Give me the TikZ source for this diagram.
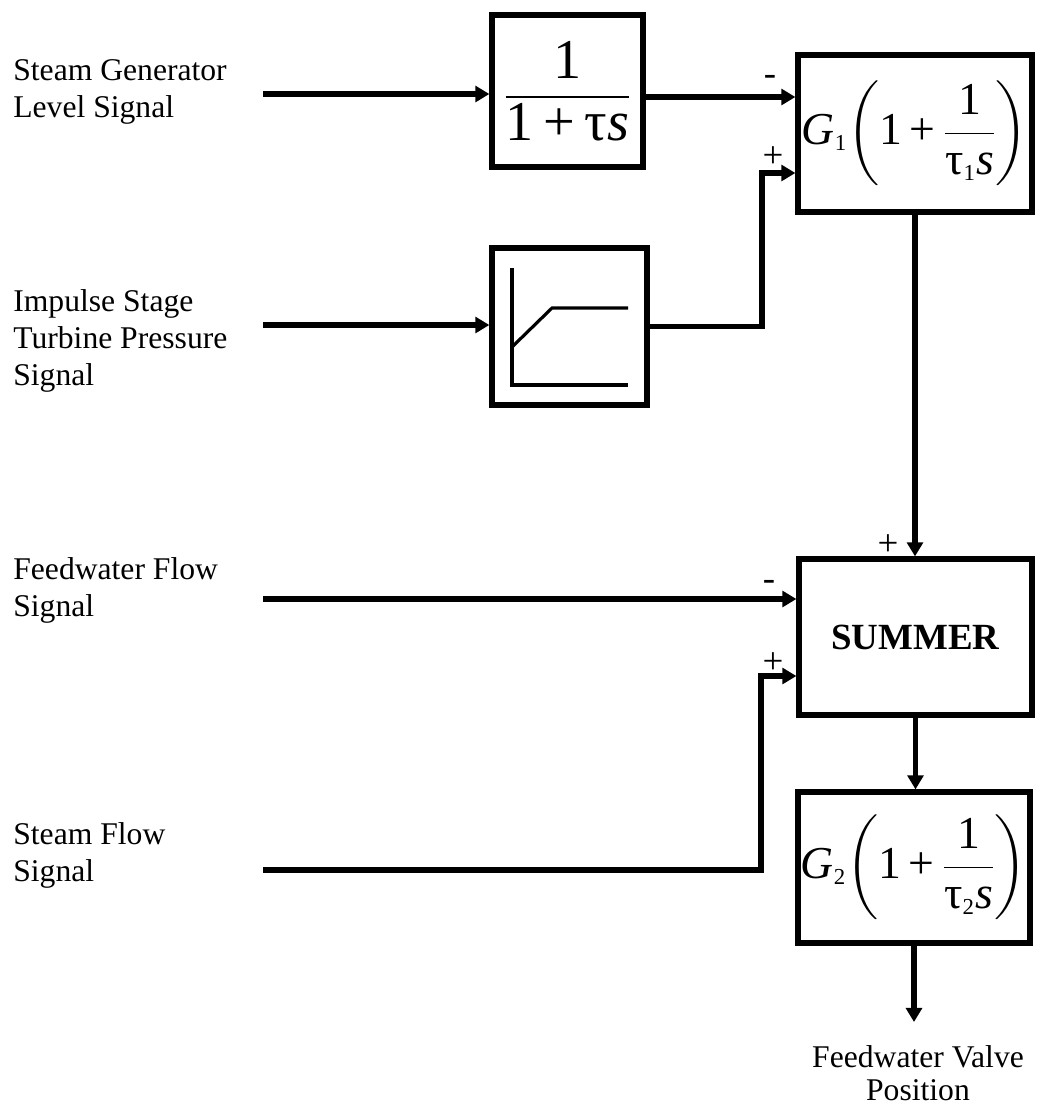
\documentclass[tikz,border=0pt]{standalone}
\usepackage{amsmath}
\usepackage{fontspec}
\setmainfont{Liberation Serif}
\usetikzlibrary{arrows.meta}

\begin{document}
\begin{tikzpicture}[x=0.02cm, y=-0.02cm,
  block/.style={draw, line width=3pt, inner sep=0pt, align=center},
  sig/.style={line width=3pt, -{Triangle[length=8pt,width=9pt]}},
  lbl/.style={inner sep=0pt, align=left, font=\fontsize{18}{21}\selectfont},
  sgn/.style={inner sep=0pt, font=\fontsize{21}{24}\selectfont}]
\useasboundingbox (0,0) rectangle (1036,1110);

% blocks
\node[block, minimum width=3.02cm, minimum height=3.04cm, font=\fontsize{32}{38}\selectfont] (lag) at (567.5,91) {$\dfrac{\text{1}}{\text{1\,+\,τ\textit{s}}}$};
\node[block, minimum width=3.1cm, minimum height=3.14cm] (fn) at (569.5,326.5) {};
\node[block, minimum width=4.68cm, minimum height=3.14cm, font=\fontsize{26}{31}\selectfont] (pi1) at (915,133.5) {$\text{\textit{G}}_{\scriptscriptstyle\text{1}}\!\left(\text{1\,+\,}\dfrac{\text{1}}{\text{τ}_{\scriptscriptstyle\text{1}}\text{\textit{s}}}\right)$};
\node[block, minimum width=4.66cm, minimum height=3.12cm, font=\fontsize{21}{25}\selectfont\bfseries] (summer) at (915.5,637) {SUMMER};
\node[block, minimum width=4.64cm, minimum height=3.02cm, font=\fontsize{26}{31}\selectfont] (pi2) at (914,867.5) {$\text{\textit{G}}_{\scriptscriptstyle\text{2}}\!\left(\text{1\,+\,}\dfrac{\text{1}}{\text{τ}_{\scriptscriptstyle\text{2}}\text{\textit{s}}}\right)$};

% curve inside the limiter
\draw[line width=1.8pt] (512,268) -- (512,385) -- (628,385);
\draw[line width=1.8pt] (512,347) -- (552,308) -- (628,308);

% input labels
\node[lbl, anchor=north west] (l1) at (13,59) {Steam Generator\\Level Signal};
\node[lbl, anchor=north west] (l2) at (13,289) {Impulse Stage\\Turbine Pressure\\Signal};
\node[lbl, anchor=north west] (l3) at (13,557) {Feedwater Flow\\Signal};
\node[lbl, anchor=north west] (l4) at (13,822) {Steam Flow\\Signal};
\node[lbl, anchor=north, align=center, font=\fontsize{18}{19}\selectfont] (l5) at (918,1045) {Feedwater Valve\\Position};

\coordinate (in1) at (263,94);
\coordinate (in2) at (263,325);
\coordinate (in3) at (263,599);
\coordinate (in4) at (263,870);
\coordinate (j1) at (762,173);
\coordinate (j2) at (761,676);
\coordinate (out) at (915,1022);

% signals
\draw[sig] (in1) -- (in1 -| lag.west);
\draw[sig] (lag.east |- 0,97) -- (pi1.west |- 0,97);
\draw[sig] (in2) -- (in2 -| fn.west);
\draw[sig] (fn.east) -| (j1) -- (j1 -| pi1.west);
\draw[sig] (pi1.south) -- (pi1.south |- summer.north);
\draw[sig] (in3) -- (in3 -| summer.west);
\draw[sig] (in4) -| (j2) -- (j2 -| summer.west);
\draw[sig] (summer.south) -- (summer.south |- pi2.north);
\draw[sig] (pi2.south) -- (pi2.south |- out);

% signs
\node[sgn] (m1) at (770,80) {-};
\node[sgn] (p1) at (773,157) {+};
\node[sgn] (p2) at (888,545) {+};
\node[sgn] (m2) at (769,585) {-};
\node[sgn] (p3) at (773,663) {+};
\end{tikzpicture}
\end{document}
